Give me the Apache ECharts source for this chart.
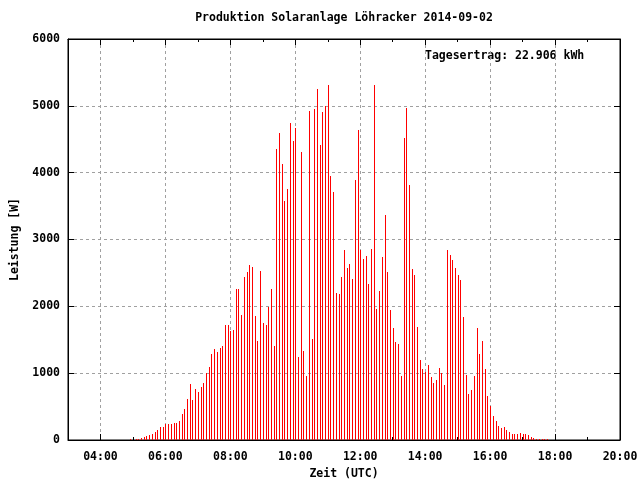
<!DOCTYPE html>
<html>
<head>
<meta charset="utf-8">
<script src="https://cdn.jsdelivr.net/npm/echarts@6/dist/echarts.min.js"></script>
<style>html,body{margin:0;padding:0;background:#fff}#c{width:640px;height:480px}</style>
</head>
<body>
<div id="c"></div>
<script>
const chartTitle = 'Produktion Solaranlage Löhracker 2014-09-02';
const yieldText = 'Tagesertrag: 22.906 kWh';
const xName = 'Zeit (UTC)';
const yName = 'Leistung [W]';
const xTickHours = [4, 6, 8, 10, 12, 14, 16, 18, 20];
const times = [
 '04:55','05:00','05:05','05:10','05:15','05:20','05:25','05:30','05:35','05:40','05:45','05:50','05:55',
 '06:00','06:05','06:10','06:15','06:20','06:25','06:30','06:35','06:40','06:45','06:50','06:55',
 '07:00','07:05','07:10','07:15','07:20','07:25','07:30','07:35','07:40','07:45','07:50','07:55',
 '08:00','08:05','08:10','08:15','08:20','08:25','08:30','08:35','08:40','08:45','08:50','08:55',
 '09:00','09:05','09:10','09:15','09:20','09:25','09:30','09:35','09:40','09:45','09:50','09:55',
 '10:00','10:05','10:10','10:15','10:20','10:25','10:30','10:35','10:40','10:45','10:50','10:55',
 '11:00','11:05','11:10','11:15','11:20','11:25','11:30','11:35','11:40','11:45','11:50','11:55',
 '12:00','12:05','12:10','12:15','12:20','12:25','12:30','12:35','12:40','12:45','12:50','12:55',
 '13:00','13:05','13:10','13:15','13:20','13:25','13:30','13:35','13:40','13:45','13:50','13:55',
 '14:00','14:05','14:10','14:15','14:20','14:25','14:30','14:35','14:40','14:45','14:50','14:55',
 '15:00','15:05','15:10','15:15','15:20','15:25','15:30','15:35','15:40','15:45','15:50','15:55',
 '16:00','16:05','16:10','16:15','16:20','16:25','16:30','16:35','16:40','16:45','16:50','16:55',
 '17:00','17:05','17:10','17:15','17:20','17:25','17:30','17:35','17:40','17:45'
];
const power = [
 15,35,15,15,35,50,65,75,90,120,150,195,195,
 245,240,245,255,255,285,390,465,615,840,600,765,
 720,795,855,1000,1090,1285,1360,1315,1375,1405,1720,1720,
 1630,1645,2254,2254,1866,2433,2507,2612,2582,1851,1478,2522,
 1746,1716,1985,2254,1403,4358,4597,4134,3582,3761,4746,4478,
 4672,1239,4313,1328,955,4925,1507,4955,5254,4418,4910,5000,
 5313,3955,3716,2194,2179,2433,2836,2567,2627,2403,3896,4642,
 2836,2701,2746,2328,2851,5313,1955,2224,2731,3373,2507,1940,
 1672,1463,1433,955,4522,4970,3821,2552,2463,1687,1194,1060,
 1015,1119,940,851,896,1075,1000,821,2836,2761,2687,2567,
 2463,2388,1836,970,687,746,955,1672,1284,1478,1060,657,
 507,358,284,209,179,194,149,119,90,90,90,104,
 90,90,75,45,30,15,15,15,15,15
];
const darkTimes = ['05:00'];

const FONT = '"DejaVu Sans Mono", "Liberation Mono", monospace';
const txt = {fontFamily: FONT, fontSize: 11.5, fontWeight: 'bold', color: '#000'};
const CSSFONT = 'bold 11.5px ' + FONT;
const toH = t => { const [h, m] = t.split(':').map(Number); return h + m / 60; };
const fmt = v => (v < 10 ? '0' : '') + Math.round(v) + ':00';
const data = times.map((t, i) => [toH(t), power[i], darkTimes.includes(t) ? 1 : 0]);

const gridDash = {color: '#a0a0a0', width: 1, type: [3, 3]};
const baseX = {type: 'value', min: 3, max: 20};
const chart = echarts.init(document.getElementById('c'), null, {renderer: 'canvas'});
chart.setOption({
  animation: false,
  backgroundColor: '#fff',
  graphic: [
    {type: 'text', x: 344, y: 18, style: {text: chartTitle, font: CSSFONT, fill: '#000', textAlign: 'center', textVerticalAlign: 'middle'}},
    {type: 'text', x: 425, y: 56, style: {text: yieldText, font: CSSFONT, fill: '#000', textAlign: 'left', textVerticalAlign: 'middle'}}
  ],
  grid: {left: 68, right: 20, top: 39, bottom: 40, show: true, borderColor: '#000', borderWidth: 1,
    containLabel: false, outerBoundsMode: 'none'},
  xAxis: [
    Object.assign({}, baseX, {
      position: 'bottom', name: xName, nameLocation: 'middle', nameGap: 25, nameTextStyle: Object.assign({}, txt),
      axisLine: {show: true, lineStyle: {color: '#000'}},
      axisTick: {show: true, inside: true, length: 6, customValues: xTickHours, lineStyle: {color: '#000'}},
      axisLabel: Object.assign({show: true, margin: 11, customValues: xTickHours, formatter: fmt}, txt),
      splitLine: {show: true, lineStyle: gridDash}
    }),
    Object.assign({}, baseX, {
      position: 'bottom', interval: 1,
      axisLine: {show: false}, axisLabel: {show: false}, splitLine: {show: false},
      axisTick: {show: true, inside: true, length: 3, lineStyle: {color: '#000'}}
    }),
    Object.assign({}, baseX, {
      position: 'top',
      axisLine: {show: true, lineStyle: {color: '#000'}}, axisLabel: {show: false}, splitLine: {show: false},
      axisTick: {show: true, inside: true, length: 6, customValues: xTickHours, lineStyle: {color: '#000'}}
    }),
    Object.assign({}, baseX, {
      position: 'top', interval: 1,
      axisLine: {show: false}, axisLabel: {show: false}, splitLine: {show: false},
      axisTick: {show: true, inside: true, length: 3, lineStyle: {color: '#000'}}
    })
  ],
  yAxis: [
    {type: 'value', min: 0, max: 6000, interval: 1000, position: 'left',
      name: yName, nameLocation: 'middle', nameGap: 47, nameTextStyle: Object.assign({}, txt),
      axisLine: {show: true, lineStyle: {color: '#000'}},
      axisTick: {show: true, inside: true, length: 6, lineStyle: {color: '#000'}},
      axisLabel: Object.assign({show: true, margin: 8, formatter: v => String(v)}, txt),
      splitLine: {show: true, lineStyle: gridDash}},
    {type: 'value', min: 0, max: 6000, interval: 1000, position: 'right',
      axisLine: {show: true, lineStyle: {color: '#000'}},
      axisTick: {show: true, inside: true, length: 6, lineStyle: {color: '#000'}},
      axisLabel: {show: false}, splitLine: {show: false}}
  ],
  series: [{
    type: 'custom', xAxisIndex: 0, yAxisIndex: 0,
    data: data,
    encode: {x: 0, y: 1},
    renderItem: function (params, api) {
      const top = api.coord([api.value(0), api.value(1)]);
      const base = api.coord([api.value(0), 0]);
      const x = Math.round(top[0]);
      const y0 = Math.round(top[1]);
      const y1 = Math.round(base[1]);
      return {type: 'rect', shape: {x: x, y: y0, width: 1, height: Math.max(1, y1 - y0)},
        style: {fill: api.value(2) ? '#000000' : '#ff0000'}};
    }
  }]
});
</script>
</body>
</html>
